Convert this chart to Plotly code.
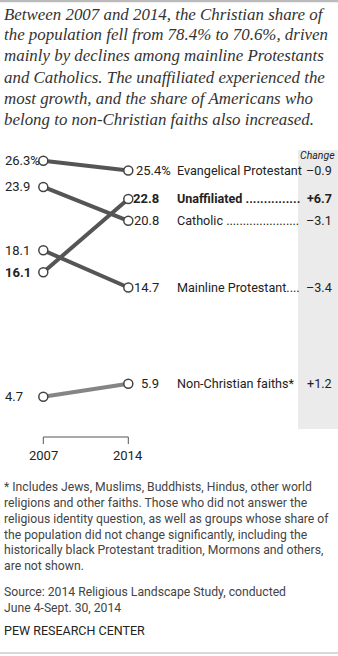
import plotly.graph_objects as go

W, H = 338, 656

# ---- data ----
categories = ["Evangelical Protestant", "Unaffiliated", "Catholic",
              "Mainline Protestant", "Non-Christian faiths*"]
label_text = ["Evangelical Protestant", "Unaffiliated ...............",
              "Catholic ......................", "Mainline Protestant....",
              "Non-Christian faiths*"]
years = [2007, 2014]
v2007 = [26.3, 16.1, 23.9, 18.1, 4.7]
v2014 = [25.4, 22.8, 20.8, 14.7, 5.9]
bold = [False, True, False, False, False]
line_colors = ["#555555", "#555555", "#555555", "#555555", "#858585"]

title_lines = [
    "Between 2007 and 2014, the Christian share of",
    "the population fell from 78.4% to 70.6%, driven",
    "mainly by declines among mainline Protestants",
    "and Catholics. The unaffiliated experienced the",
    "most growth, and the share of Americans who",
    "belong to non-Christian faiths also increased.",
]
note_lines = [
    "* Includes Jews, Muslims, Buddhists, Hindus, other world",
    "religions and other faiths. Those who did not answer the",
    "religious identity question, as well as groups whose share of",
    "the population did not change significantly, including the",
    "historically black Protestant tradition, Mormons and others,",
    "are not shown.",
]
source_lines = ["Source: 2014 Religious Landscape Study, conducted",
                "June 4-Sept. 30, 2014"]
credit = "PEW RESEARCH CENTER"

# ---- pixel helpers (layout only) ----
X0_PX, X1_PX = 43.3, 128.3
xs = (X1_PX - X0_PX) / (years[1] - years[0])
x_range = [years[0] - X0_PX / xs, years[1] + (W - X1_PX) / xs]
Y_TOP_PX, KY = 160.7, 10.93
y_range = [26.3 - (H - Y_TOP_PX) / KY, 26.3 + Y_TOP_PX / KY]


def px_x(px):
    return years[0] + (px - X0_PX) / xs


def pap_x(px):
    return px / W


def pap_y(py):
    return 1 - py / H


SANS = "Roboto, Arial, sans-serif"
SERIF = "Liberation Serif, DejaVu Serif, serif"
TXT = "#333333"
FS = 13
FL = 12.6

fig = go.Figure()

# gray "Change" band
fig.add_shape(type="rect", xref="paper", yref="paper",
              x0=pap_x(298), x1=1, y0=pap_y(429), y1=pap_y(150),
              fillcolor="#ebebeb", line_width=0, layer="below")

for i, c in enumerate(categories):
    fig.add_trace(go.Scatter(
        x=years, y=[v2007[i], v2014[i]], mode="lines+markers",
        line=dict(color=line_colors[i], width=4),
        marker=dict(size=9, color="white",
                    line=dict(color="#444444", width=1.5)),
        hoverinfo="skip", showlegend=False, name=c))

ann = []
for i, c in enumerate(categories):
    b = bold[i]
    # left values
    t = f"{v2007[i]:.1f}" + ("%" if i == 0 else "")
    ann.append(dict(xref="paper", yref="y", x=pap_x(3), y=v2007[i],
                    text=f"<b>{t}</b>" if b else t, xanchor="left",
                    yanchor="middle", showarrow=False,
                    font=dict(family=SANS, size=FS, color="#222")))
    # right values
    t = f"{v2014[i]:.1f}"
    if i == 0:
        ann.append(dict(xref="x", yref="y", x=px_x(134), y=v2014[i],
                        text=t + "%", xanchor="left", yanchor="middle",
                        showarrow=False,
                        font=dict(family=SANS, size=FS, color="#222")))
    else:
        ann.append(dict(xref="x", yref="y", x=px_x(161), y=v2014[i],
                        text=f"<b>{t}</b>" if b else t, xanchor="right",
                        yanchor="middle", showarrow=False,
                        font=dict(family=SANS, size=FS, color="#222")))
    # category labels
    lt = label_text[i]
    ann.append(dict(xref="x", yref="y", x=px_x(175), y=v2014[i],
                    text=f"<b>{lt}</b>" if b else lt, xanchor="left",
                    yanchor="middle", showarrow=False,
                    font=dict(family=SANS, size=FL, color="#222")))
    # change
    d = round(v2014[i] - v2007[i], 1)
    ct = (f"+{d:.1f}" if d > 0 else f"\u2013{abs(d):.1f}")
    ann.append(dict(xref="paper", yref="y", x=pap_x(319), y=v2014[i],
                    text=f"<b>{ct}</b>" if b else ct, xanchor="center",
                    yanchor="middle", showarrow=False,
                    font=dict(family=SANS, size=FL, color="#222")))

ann.append(dict(xref="paper", yref="paper", x=pap_x(317), y=pap_y(155),
                text="<i>Change</i>", xanchor="center", yanchor="middle",
                showarrow=False, font=dict(family=SANS, size=10.5, color="#222")))

# year labels
for yr in years:
    ann.append(dict(xref="x", yref="paper", x=yr, y=pap_y(455),
                    text=str(yr), xanchor="center", yanchor="middle",
                    showarrow=False,
                    font=dict(family=SANS, size=FS, color="#222")))

# bracket
fig.add_shape(type="path", xref="x", yref="paper",
              path=f"M {years[0]},{pap_y(444)} L {years[0]},{pap_y(437)} "
                   f"L {years[1]},{pap_y(437)} L {years[1]},{pap_y(444)}",
              line=dict(color="#555555", width=1))

# title, one annotation per line for exact spacing
for k, line in enumerate(title_lines):
    ann.append(dict(xref="paper", yref="paper", x=pap_x(2),
                    y=pap_y(14 + 21 * k), text=f"<i>{line}</i>",
                    xanchor="left", yanchor="middle", align="left",
                    showarrow=False,
                    font=dict(family=SERIF, size=16.9, color=TXT)))

# notes
ann.append(dict(xref="paper", yref="paper", x=pap_x(2), y=pap_y(478),
                text="<br>".join(note_lines), xanchor="left", yanchor="top",
                align="left", showarrow=False,
                font=dict(family=SANS, size=12.2, color="#444")))
ann.append(dict(xref="paper", yref="paper", x=pap_x(2), y=pap_y(583),
                text="<br>".join(source_lines), xanchor="left", yanchor="top",
                align="left", showarrow=False,
                font=dict(family=SANS, size=12.2, color="#444")))
ann.append(dict(xref="paper", yref="paper", x=pap_x(2), y=pap_y(630),
                text=credit, xanchor="left", yanchor="middle",
                align="left", showarrow=False,
                font=dict(family=SANS, size=12.5, color="#222")))

# top / bottom rules
fig.add_shape(type="line", xref="paper", yref="paper", x0=0, x1=1,
              y0=pap_y(1), y1=pap_y(1), line=dict(color="#bbbbbb", width=2.5))
fig.add_shape(type="line", xref="paper", yref="paper", x0=0, x1=1,
              y0=pap_y(653), y1=pap_y(653), line=dict(color="#cccccc", width=1.5))

fig.update_layout(
    width=W, height=H, margin=dict(l=0, r=0, t=0, b=0),
    paper_bgcolor="white", plot_bgcolor="white",
    xaxis=dict(range=x_range, visible=False, fixedrange=True),
    yaxis=dict(range=y_range, visible=False, fixedrange=True),
    annotations=ann, showlegend=False,
)

fig.write_html("out.html", config={"displayModeBar": False})
